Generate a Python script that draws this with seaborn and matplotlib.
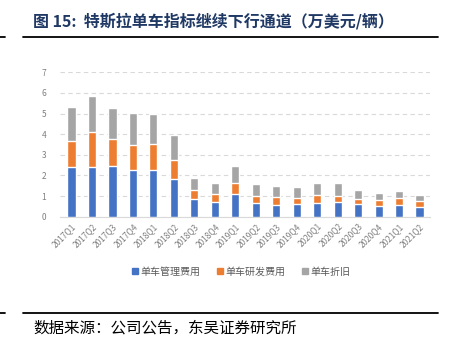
import pandas as pd
import seaborn as sns
import matplotlib.pyplot as plt
from matplotlib.lines import Line2D
from matplotlib.patches import Patch

# 季度
quarters = ['2017Q1', '2017Q2', '2017Q3', '2017Q4', '2018Q1', '2018Q2', '2018Q3', '2018Q4',
            '2019Q1', '2019Q2', '2019Q3', '2019Q4', '2020Q1', '2020Q2', '2020Q3', '2020Q4',
            '2021Q1', '2021Q2']
# 单车管理费用 / 单车研发费用 / 单车折旧 (万美元/辆)
admin_cost = [2.39, 2.42, 2.47, 2.26, 2.26, 1.83, 0.84, 0.71, 1.08, 0.66, 0.58, 0.61,
              0.68, 0.71, 0.61, 0.52, 0.55, 0.45]
rd_cost = [1.29, 1.70, 1.28, 1.20, 1.25, 0.93, 0.45, 0.40, 0.55, 0.34, 0.36, 0.29,
           0.37, 0.29, 0.26, 0.27, 0.35, 0.29]
depreciation = [1.62, 1.74, 1.50, 1.55, 1.48, 1.18, 0.58, 0.54, 0.81, 0.60, 0.53, 0.52,
                0.60, 0.62, 0.41, 0.34, 0.33, 0.33]
series_names = ['单车管理费用', '单车研发费用', '单车折旧']
colors = ['#4472C4', '#ED7D31', '#A5A5A5']

df = pd.DataFrame({'季度': quarters, 'a': admin_cost, 'b': rd_cost, 'c': depreciation})
df['s1'] = df['a']
df['s2'] = df['a'] + df['b']
df['s3'] = df['s2'] + df['c']

sns.set_style('white')
plt.rcParams['font.family'] = ['Noto Sans CJK SC', 'DejaVu Sans']

fig = plt.figure(figsize=(4.51, 3.51), dpi=100)
ax = fig.add_axes([0.133, 0.3826, 0.82, 0.4114])

# 叠加柱状图：从总高度往下画
for col, c in zip(['s3', 's2', 's1'], colors[::-1]):
    sns.barplot(data=df, x='季度', y=col, color=c, width=0.4, saturation=1, ax=ax, zorder=3)

ax.set_ylim(0, 7)
ax.set_xlim(-0.56, 17.5)
ax.set_yticks(range(0, 8))
ax.yaxis.grid(True, linestyle=(0, (4, 3)), color='#D9D9D9', linewidth=0.8, zorder=0)
ax.set_xlabel('')
ax.set_ylabel('')
for s in ['top', 'right', 'left']:
    ax.spines[s].set_visible(False)
ax.spines['bottom'].set_color('#D9D9D9')
ax.tick_params(axis='both', length=0, labelsize=6, labelcolor='#7F7F7F')
ax.tick_params(axis='y', pad=10)
plt.setp(ax.get_xticklabels(), rotation=45, ha='right', rotation_mode='anchor')

handles = [Patch(color=c) for c in colors]
fig.legend(handles, series_names, loc='center', bbox_to_anchor=(0.535, 0.226), ncol=3,
           frameon=False, fontsize=7.2, handlelength=0.6, handleheight=0.6,
           handletextpad=0.3, columnspacing=1.6, labelcolor='#595959')

# 标题、分隔线和来源
fig.text(0.073, 0.94, '图 15:  特斯拉单车指标继续下行通道（万美元/辆）', fontsize=11.5,
         fontweight='bold', color='#1F3864', va='center')
for y in [0.894, 0.108]:
    fig.add_artist(Line2D([0.051, 0.971], [y, y], color='black', linewidth=1.3))
    fig.add_artist(Line2D([0.0, 0.011], [y, y], color='black', linewidth=1.3))
fig.text(0.073, 0.065, '数据来源：公司公告，东吴证券研究所', fontsize=11.2, color='black', va='center')

fig.savefig('out.png', dpi=100)
